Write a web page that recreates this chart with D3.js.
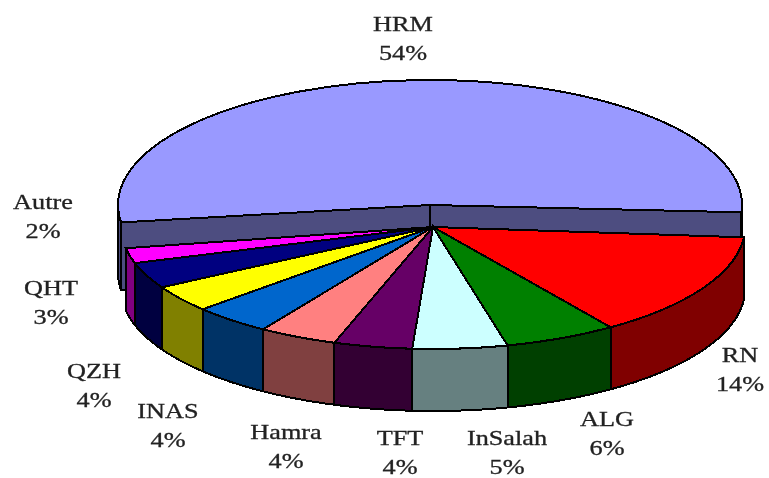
<!DOCTYPE html>
<html lang="en">
	<head>
		<meta charset="UTF-8">
		<title>Pie chart</title>
		<script src="https://d3js.org/d3.v7.min.js"></script>
		<style>
			html, body { margin: 0; background: #fff; }
			svg { display: block; filter: blur(0.5px); }
			text { font-family: "Liberation Serif", serif; font-size: 21px; fill: #222; stroke: #222; stroke-width: 0.3px; text-anchor: middle; }
		</style>
	</head>
	<body>
		<div id="chart"></div>

		<script type="text/javascript">
			// Data
			const categories = ['HRM', 'RN', 'ALG', 'InSalah', 'TFT', 'Hamra', 'INAS', 'QZH', 'QHT', 'Autre'];
			const values = [54.1, 14.0, 5.8, 4.9, 4.05, 4.05, 4.05, 3.55, 3.45, 2.0];
			const colors = ['#9999ff', '#ff0000', '#008000', '#ccffff', '#660066', '#ff8080', '#0066cc', '#ffff00', '#000080', '#ff00ff'];

			// Label placement: [centre x, name line y]
			const labelSpots = [[403, 31], [740, 362], [607, 426], [507, 445], [400, 445], [286, 439], [168, 418], [94, 378], [51, 295], [43, 209]];

			const width = 769;
			const height = 478;
			const lower = { x: 433, y: 227, rx: 312, ry: 122, depth: 62 };
			const upper = { x: 430, y: 205, rx: 312, ry: 125, depth: 68 };

			const svg = d3.select('#chart')
				.append('svg')
				.attr('width', width)
				.attr('height', height);

			const toRad = Math.PI / 180;
			const pie = d3.pie()
				.sort(null)
				.startAngle(260 * toRad)
				.endAngle(620 * toRad);
			const slices = pie(values);

			// Wall colour is the top colour at half brightness
			const shade = c => {
				const rgb = d3.rgb(c);
				return d3.rgb(rgb.r / 2, rgb.g / 2, rgb.b / 2).formatHex();
			};

			// d3 angle (0 at 12 o'clock, clockwise) to a point on the ellipse
			const px = (a, e) => e.x + e.rx * Math.sin(a);
			const py = (a, e) => e.y - e.ry * Math.cos(a);

			const edged = sel => sel
				.attr('stroke', '#000')
				.attr('stroke-width', 2)
				.attr('vector-effect', 'non-scaling-stroke')
				.attr('shape-rendering', 'crispEdges');

			const drawWall = (from, to, e, fill) => {
				const n = Math.max(2, Math.ceil((to - from) / (0.5 * toRad)));
				const angles = d3.range(n + 1).map(i => from + (to - from) * i / n);
				const area = d3.area()
					.x(a => px(a, e))
					.y0(a => py(a, e))
					.y1(a => py(a, e) + e.depth);
				svg.append('path')
					.attr('d', area(angles))
					.attr('fill', fill)
					.call(edged);
			};

			const drawTop = (from, to, e, fill) => {
				const arc = d3.arc().innerRadius(0).outerRadius(e.rx);
				svg.append('path')
					.attr('d', arc({ startAngle: from, endAngle: to }))
					.attr('transform', `translate(${e.x},${e.y}) scale(1,${e.ry / e.rx})`)
					.attr('fill', fill)
					.call(edged);
			};

			// HRM sits apart, pulled back from the rest of the pie, and reads a touch narrower there
			const hrmStart = slices[0].startAngle + 2 * toRad;
			const hrmEnd = slices[0].endAngle - 1.5 * toRad;
			const hrmWall = shade(colors[0]);
			[hrmStart, hrmEnd].forEach(a => {
				const x = px(a, upper);
				const y = py(a, upper);
				svg.append('path')
					.attr('d', d3.line()([[upper.x, upper.y], [x, y], [x, y + upper.depth], [upper.x, upper.y + upper.depth]]) + 'Z')
					.attr('fill', hrmWall)
					.call(edged);
			});
			drawWall(hrmStart, 270 * toRad, upper, hrmWall);
			drawWall(450 * toRad, hrmEnd, upper, hrmWall);
			drawTop(hrmStart, hrmEnd, upper, colors[0]);

			// Remaining slices, walls first, then tops
			slices.slice(1).forEach(d => drawWall(d.startAngle, d.endAngle, lower, shade(colors[d.index])));
			slices.slice(1).forEach(d => drawTop(d.startAngle, d.endAngle, lower, colors[d.index]));

			// Labels, stretched sideways like the original bitmap type
			const total = d3.sum(values);
			const labels = svg.append('g').selectAll('g')
				.data(slices)
				.enter()
				.append('g')
				.attr('transform', (d, i) => `translate(${labelSpots[i][0]},${labelSpots[i][1]}) scale(1.25,1)`);
			labels.append('text')
				.text((d, i) => categories[i]);
			labels.append('text')
				.attr('y', 29)
				.text(d => `${Math.round(d.value / total * 100)}%`);
		</script>
	</body>
</html>
